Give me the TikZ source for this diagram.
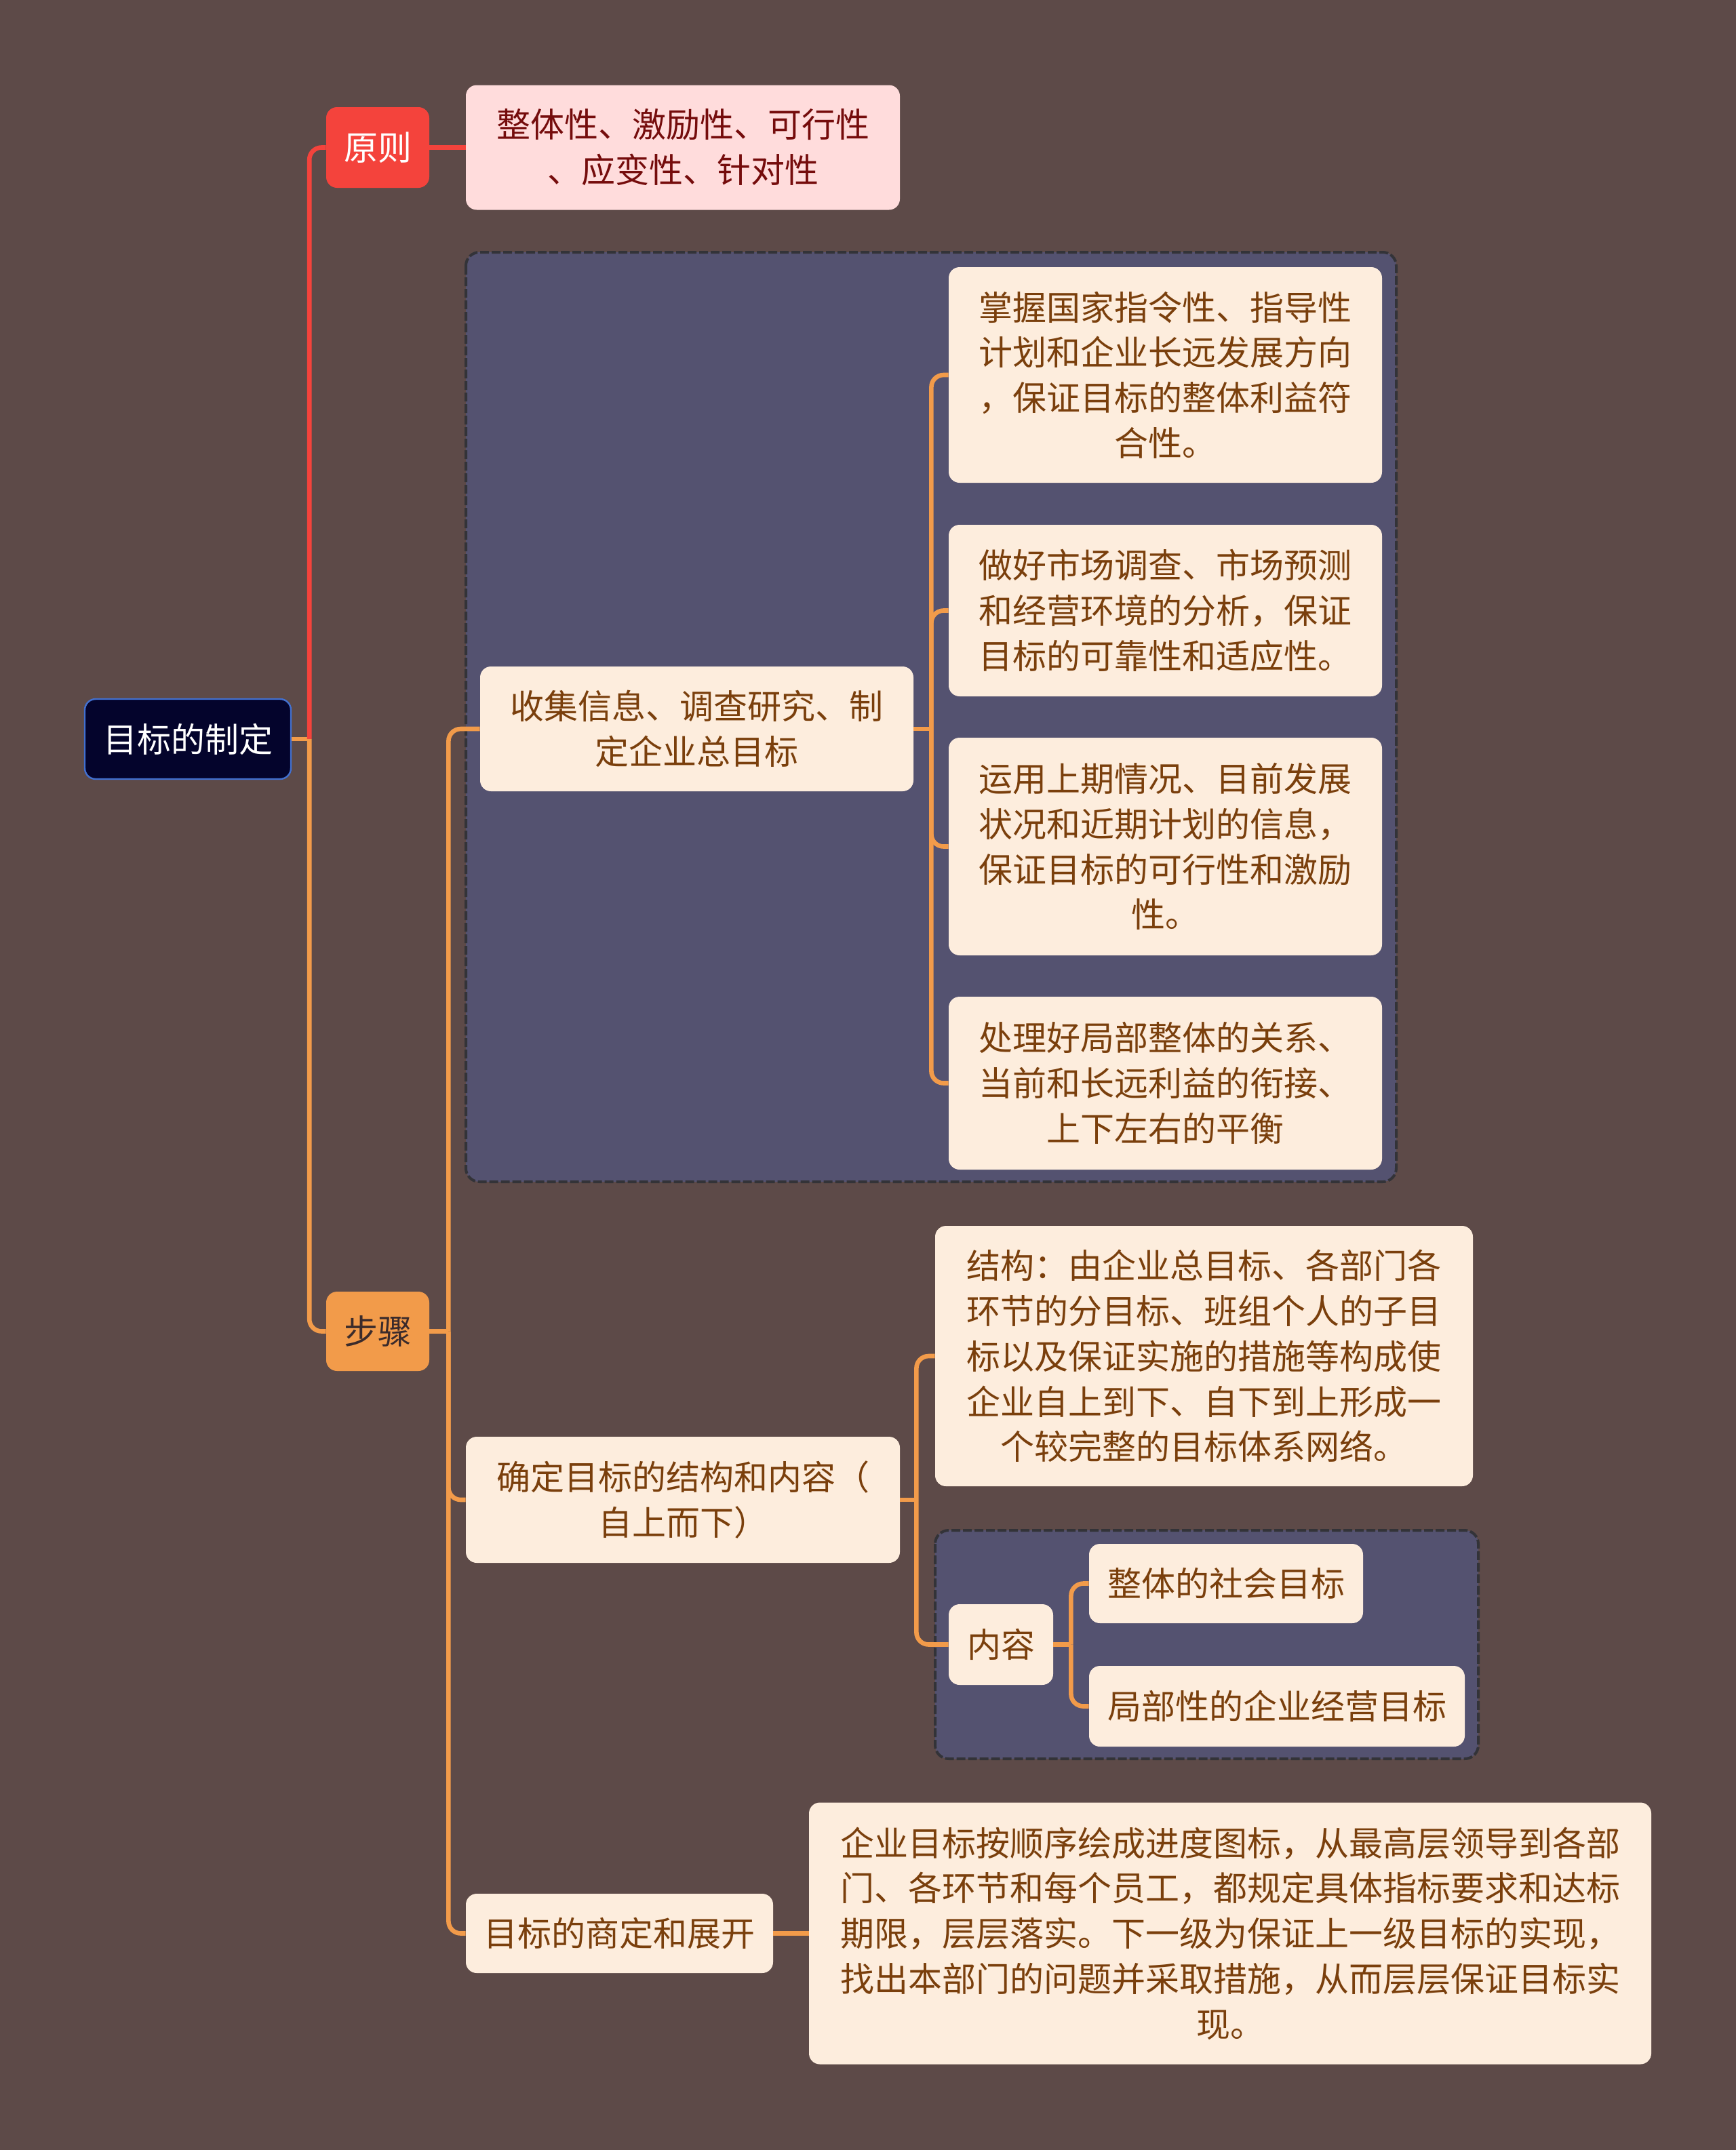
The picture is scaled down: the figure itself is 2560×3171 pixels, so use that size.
\documentclass[tikz,border=0pt]{standalone}
\usepackage{fontspec}
\setmainfont{Noto Sans CJK SC}
\usetikzlibrary{calc}
\definecolor{bg}{HTML}{5D4A48}
\definecolor{grp}{HTML}{545270}
\definecolor{grpline}{HTML}{333338}
\definecolor{leaf}{HTML}{FDEDDD}
\definecolor{pleaffill}{HTML}{FFDCDC}
\definecolor{redc}{HTML}{F4433C}
\definecolor{orangec}{HTML}{F29B4A}
\definecolor{rootfill}{HTML}{04042C}
\definecolor{rootline}{HTML}{4270D0}
\definecolor{browntext}{HTML}{7A3F0C}
\definecolor{redtext}{HTML}{750C0C}
\definecolor{darktext}{HTML}{3B2B2B}
\tikzset{
  box/.style={rounded corners=8pt, inner sep=0pt, align=center,
    font=\fontsize{25pt}{33.4pt}\selectfont},
  leafbox/.style={box, fill=leaf, text=browntext},
  grpbox/.style={fill=grp, draw=grpline, line width=2pt, dash pattern=on 6.5pt off 2pt, rounded corners=10pt},
  oc/.style={draw=orangec, line width=3.3pt},
  rc/.style={draw=redc, line width=3.3pt},
  occ/.style={oc, rounded corners=9pt},
  rcc/.style={rc, rounded corners=9pt},
}
\begin{document}
\begin{tikzpicture}[x=0.5pt,y=-0.5pt]
\fill[bg] (0,0) rectangle (2560,3171);
\useasboundingbox (0,0) rectangle (2560,3171);

% groups
\path[grpbox] (687,372) rectangle (2059,1743);
\path[grpbox] (1379,2257) rectangle (2180,2594);

% nodes
\node[box, fill=rootfill, draw=rootline, line width=1.2pt, text=white,
  minimum width=152pt, minimum height=59pt] (root) at (277,1090) {目标的制定};
\node[box, fill=redc, text=white, minimum width=76pt, minimum height=59.5pt] (yuanze) at (557,217.5) {原则};
\node[box, fill=pleaffill, text=redtext, minimum width=320pt, minimum height=92pt] (pleaf) at (1007,217.5)
  {整体性、激励性、可行性\\、应变性、针对性};
\node[box, fill=orangec, text=darktext, minimum width=76pt, minimum height=58.5pt] (buzhou) at (557,1963.5) {步骤};

\node[leafbox, minimum width=319.5pt, minimum height=92pt] (s1) at (1027.5,1075)
  {收集信息、调查研究、制\\定企业总目标};
\node[leafbox, minimum width=319.5pt, minimum height=159pt] (a1) at (1718.5,553)
  {掌握国家指令性、指导性\\计划和企业长远发展方向\\，保证目标的整体利益符\\合性。};
\node[leafbox, minimum width=319.5pt, minimum height=126.5pt] (a2) at (1718.5,900.5)
  {做好市场调查、市场预测\\和经营环境的分析，保证\\目标的可靠性和适应性。};
\node[leafbox, minimum width=319.5pt, minimum height=160.5pt] (a3) at (1718.5,1248.5)
  {运用上期情况、目前发展\\状况和近期计划的信息，\\保证目标的可行性和激励\\性。};
\node[leafbox, minimum width=319.5pt, minimum height=127.5pt] (a4) at (1718.5,1597.5)
  {处理好局部整体的关系、\\当前和长远利益的衔接、\\上下左右的平衡};

\node[leafbox, minimum width=320pt, minimum height=93pt] (s2) at (1007,2212)
  {确定目标的结构和内容（\\自上而下）};
\node[leafbox, minimum width=396.5pt, minimum height=192pt] (b1) at (1775.5,2000)
  {结构：由企业总目标、各部门各\\环节的分目标、班组个人的子目\\标以及保证实施的措施等构成使\\企业自上到下、自下到上形成一\\个较完整的目标体系网络。};
\node[leafbox, minimum width=77pt, minimum height=59.5pt] (neirong) at (1476,2425.5) {内容};
\node[leafbox, minimum width=202pt, minimum height=58.5pt] (ca) at (1808,2335.5) {整体的社会目标};
\node[leafbox, minimum width=277pt, minimum height=59.5pt] (cb) at (1883,2516.5) {局部性的企业经营目标};

\node[leafbox, minimum width=226.5pt, minimum height=58.5pt] (s3) at (913.5,2851.5) {目标的商定和展开};
\node[leafbox, minimum width=621pt, minimum height=193pt] (d1) at (1814,2851.5)
  {企业目标按顺序绘成进度图标，从最高层领导到各部\\门、各环节和每个员工，都规定具体指标要求和达标\\期限，层层落实。下一级为保证上一级目标的实现，\\找出本部门的问题并采取措施，从而层层保证目标实\\现。};

% connectors
\draw[oc] (root.east) -- ++(13pt,0) coordinate (jroot);
\draw[rcc] (jroot) |- (yuanze.west);
\draw[occ] (jroot) |- (buzhou.west);
\draw[rc] (yuanze.east) -- (pleaf.west);

\draw[oc] (buzhou.east) -- ++(14pt,0) coordinate (jbz);
\draw[occ] (jbz) |- (s1.west);
\draw[occ] (jbz) |- (s2.west);
\draw[occ] (jbz) |- (s3.west);

\draw[oc] (s1.east) -- ++(13pt,0) coordinate (js1);
\draw[occ] (js1) |- (a1.west);
\draw[occ] (js1) |- (a2.west);
\draw[occ] (js1) |- (a3.west);
\draw[occ] (js1) |- (a4.west);

\draw[oc] (s2.east) -- ++(12pt,0) coordinate (js2);
\draw[occ] (js2) |- (b1.west);
\draw[occ] (js2) |- (neirong.west);

\draw[oc] (neirong.east) -- ++(13pt,0) coordinate (jn);
\draw[occ] (jn) |- (ca.west);
\draw[occ] (jn) |- (cb.west);

\draw[oc] (s3.east) -- (d1.west);
\end{tikzpicture}
\end{document}
